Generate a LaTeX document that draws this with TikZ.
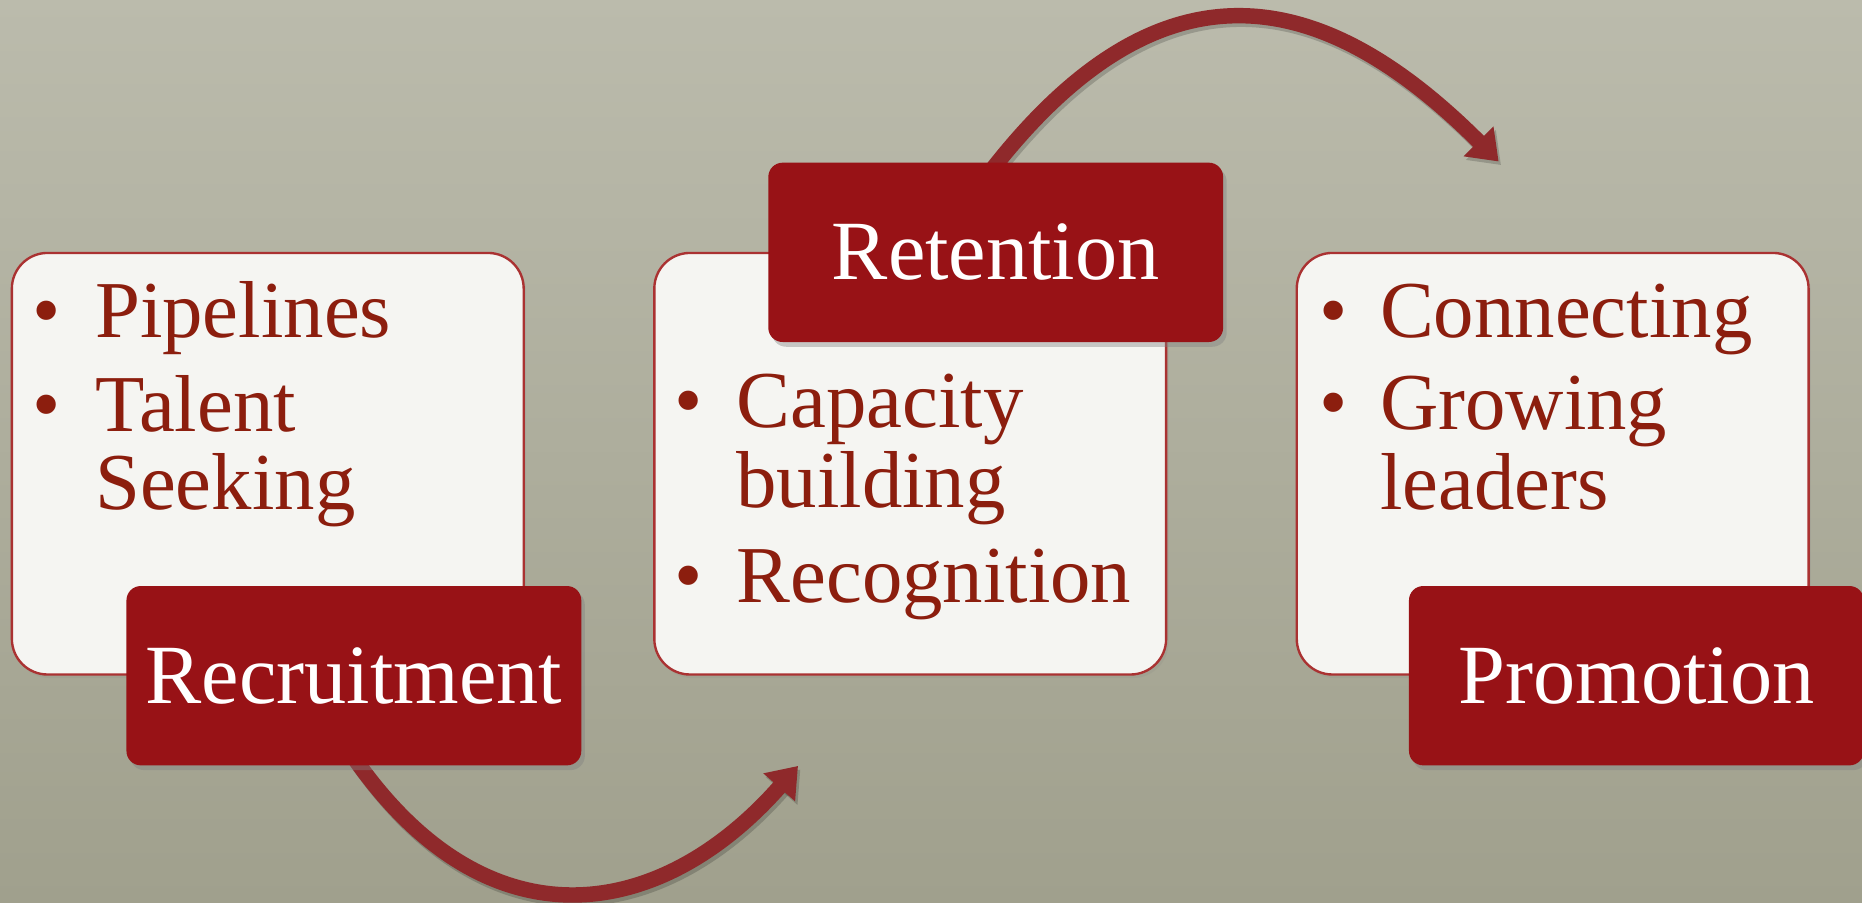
\documentclass[tikz,border=0pt]{standalone}
\usepackage{fontspec}
\setmainfont{Liberation Serif}
\usetikzlibrary{shadows,arrows.meta}
\definecolor{bgtop}{RGB}{187,187,172}
\definecolor{bgbot}{RGB}{160,160,141}
\definecolor{boxred}{RGB}{152,18,22}
\definecolor{arrred}{RGB}{143,41,43}
\definecolor{txtred}{RGB}{140,30,14}
\definecolor{paper}{RGB}{245,245,242}
\definecolor{edgered}{RGB}{170,50,50}
\begin{document}
\begin{tikzpicture}[x=1pt,y=-1pt,
  wbox/.style={draw=edgered, line width=2pt, fill=paper, rounded corners=30pt,
    minimum width=431pt, minimum height=355pt, inner sep=0pt,
    drop shadow={shadow xshift=2pt, shadow yshift=-3pt, opacity=0.15}},
  rbox/.style={fill=boxred, rounded corners=12pt, minimum width=383pt,
    minimum height=151pt, inner sep=0pt, text=white,
    font=\fontsize{71}{71}\selectfont,
    drop shadow={shadow xshift=3pt, shadow yshift=-4pt, opacity=0.4}},
  item/.style={anchor=base west, inner sep=0pt, text=txtred,
    font=\fontsize{68}{68}\selectfont},
  dotitem/.style={anchor=base, inner sep=0pt, text=txtred,
    font=\fontsize{68}{68}\selectfont},
  flow/.style={draw=arrred, line width=13pt,
    -{Triangle[width=34pt,length=24pt]}},
  flowshadow/.style={draw=black, opacity=0.18, line width=13pt,
    -{Triangle[width=34pt,length=24pt]},
    transform canvas={shift={(2pt,-3pt)}}}
]
\useasboundingbox (0,0) rectangle (1568,760);
\fill[top color=bgtop, bottom color=bgbot] (0,0) rectangle (1568,760);

% white boxes
\node[wbox] (b1) at (225.5,390.5) {};
\node[wbox] (b2) at (766.5,390.5) {};
\node[wbox] (b3) at (1307.5,390.5) {};

% connectors
\coordinate (s1) at (298,638);
\coordinate (e1) at (672,645);
\coordinate (s2) at (836,142);
\coordinate (e2) at (1262,136);
\draw[flowshadow] (s1) .. controls (411.2,800.6) and (556.8,775.9) .. (e1);
\draw[flowshadow] (s2) .. controls (982.5,-44.8) and (1118.8,-7.2) .. (e2);
\draw[flow] (s1) .. controls (411.2,800.6) and (556.8,775.9) .. (e1);
\draw[flow] (s2) .. controls (982.5,-44.8) and (1118.8,-7.2) .. (e2);

% red boxes
\node[rbox] (rec) at (298,569) {Recruitment};
\node[rbox] (ret) at (838.5,212.5) {Retention};
\node[rbox] (pro) at (1378,569) {Promotion};

% box 1 text
\node[dotitem] (d11) at (39,284) {\textbullet};
\node[item] (t11) at (80,284) {Pipelines};
\node[dotitem] (d12) at (39,363) {\textbullet};
\node[item] (t12) at (80,363) {Talent};
\node[item] (t13) at (80,429) {Seeking};

% box 2 text
\node[dotitem] (d21) at (580,360) {\textbullet};
\node[item] (t21) at (620,360) {Capacity};
\node[item] (t22) at (620,427) {building};
\node[dotitem] (d23) at (580,507) {\textbullet};
\node[item] (t23) at (620,507) {Recognition};

% box 3 text
\node[dotitem] (d31) at (1123,284) {\textbullet};
\node[item] (t31) at (1162,284) {Connecting};
\node[dotitem] (d32) at (1123,362) {\textbullet};
\node[item] (t32) at (1162,362) {Growing};
\node[item] (t33) at (1162,429) {leaders};
\end{tikzpicture}
\end{document}
